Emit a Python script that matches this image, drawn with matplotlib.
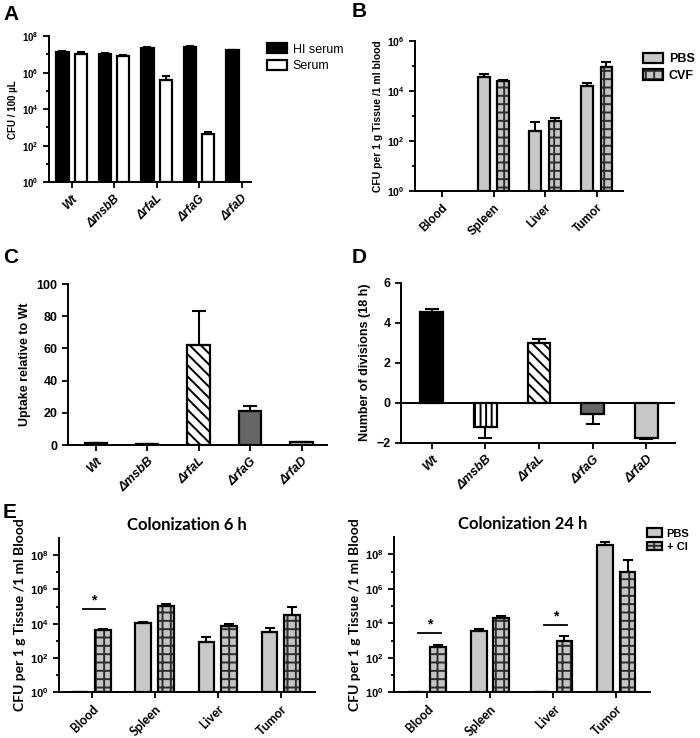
import numpy as np
import matplotlib
matplotlib.use("Agg")
import matplotlib.pyplot as plt
from matplotlib.patches import Patch
from matplotlib.legend_handler import HandlerTuple

plt.rcParams['font.family'] = ['Liberation Sans', 'DejaVu Sans']
plt.rcParams['font.weight'] = 'bold'
plt.rcParams['mathtext.fontset'] = 'custom'
plt.rcParams['mathtext.rm'] = 'Liberation Sans:bold'
plt.rcParams['mathtext.bf'] = 'Liberation Sans:bold'
plt.rcParams['hatch.linewidth'] = 1.4

nan = np.nan

# ================= DATA ==================
strains = ["Wt", "ΔmsbB", "ΔrfaL", "ΔrfaG", "ΔrfaD"]
organs = ["Blood", "Spleen", "Liver", "Tumor"]

# A: serum resistance (CFU / 100 uL)
a_hi = [1.35e7, 1.1e7, 2.3e7, 2.5e7, 1.65e7]
a_hi_sd = [1.5e6, 1.0e6, 1.5e6, 2.5e6, 1.5e6]
a_serum = [1.1e7, 8.5e6, 4.2e5, 4.2e2, nan]
a_serum_sd = [2.5e6, 0.8e6, 2.1e5, 1.4e2, nan]

# B: colonization PBS vs CVF
b_pbs = [nan, 3.9e4, 245, 1.6e4]
b_pbs_sd = [nan, 1.0e4, 330, 0.64e4]
b_cvf = [nan, 2.5e4, 630, 9.7e4]
b_cvf_sd = [nan, 0.3e4, 220, 4.8e4]

# C: uptake relative to Wt
c_uptake = [1.0, 0.4, 62, 21, 1.6]
c_uptake_sd = [0.3, 0.1, 21.5, 3, 0.4]

# D: number of divisions (18 h)
d_div = [4.55, -1.2, 3.0, -0.55, -1.75]
d_div_sd = [0.12, 0.55, 0.2, 0.53, 0.08]

# E: colonization 6 h / 24 h, PBS vs + CI
e6_pbs = [1, 1.15e4, 820, 3.3e3]
e6_pbs_sd = [0, 500, 780, 2.3e3]
e6_ci = [4.3e3, 1.1e5, 7e3, 3.4e4]
e6_ci_sd = [500, 3e4, 3e3, 6.6e4]
e6_sig = [("Blood", 7e4)]

e24_pbs = [1, 3.6e3, 1, 3.4e8]
e24_pbs_sd = [0, 1.4e3, 0, 2e8]
e24_ci = [400, 2e4, 1e3, 9e6]
e24_ci_sd = [175, 0.7e4, 740, 4.1e7]
e24_sig = [("Blood", 2.7e3), ("Liver", 8e3)]

# ================= STYLE ==================
LIGHT = "#c8c8c8"
DARK = "#666666"
BRICK_FILL = "#c4c4c4"
BRICK_LINE = "#2e2e2e"
EDGE_LW = 1.6
CAL = ["Lato", "DejaVu Sans"]


def style_axes(ax):
    for s in ["top", "right"]:
        ax.spines[s].set_visible(False)
    for s in ["left", "bottom"]:
        ax.spines[s].set_linewidth(1.4)
    ax.tick_params(axis="both", which="both", direction="out", width=1.3)
    ax.tick_params(axis="both", which="major", length=4)
    ax.tick_params(axis="both", which="minor", length=2.5)


def log_ticks(ax, top_exp, fs):
    major = list(range(0, top_exp + 1, 2))
    ax.set_yticks([10.0 ** e for e in major])
    ax.set_yticklabels([r"$\mathbf{10^{%d}}$" % e for e in major], fontsize=fs)
    ax.set_yticks([10.0 ** e for e in range(1, top_exp, 2)], minor=True)
    ax.set_yticklabels([], minor=True)


def plain_bar(ax, x, h, w, color, hatch=None, bottom=0):
    ax.bar(x, h, w, bottom=bottom, color=color, edgecolor="black",
           linewidth=EDGE_LW, hatch=hatch, zorder=2)


def brick_bar(ax, x, h, w, bottom=0):
    ax.bar(x, h, w, bottom=bottom, color=BRICK_FILL, edgecolor=BRICK_LINE,
           linewidth=0, hatch="++", zorder=2)
    ax.bar(x, h, w, bottom=bottom, fill=False, edgecolor="black",
           linewidth=EDGE_LW, zorder=3)


def err_up(ax, x, vals, sd, capsize=3.5):
    vals = np.asarray(vals, float)
    sd = np.asarray(sd, float)
    lo = np.where(vals < 0, sd, 0)
    hi = np.where(vals < 0, 0, sd)
    ax.errorbar(x, vals, yerr=[lo, hi], fmt="none", ecolor="black",
                elinewidth=1.5, capsize=capsize, capthick=1.5, zorder=4)


def brick_handle():
    return (Patch(facecolor=BRICK_FILL, edgecolor=BRICK_LINE, hatch="++", linewidth=0),
            Patch(fill=False, edgecolor="black", linewidth=EDGE_LW))


def xlabels(ax, labels, fs, italic=True, family=None):
    ax.set_xticks(np.arange(len(labels)))
    kw = {}
    if family:
        kw["family"] = family
    ax.set_xticklabels(labels, rotation=45, ha="right", rotation_mode="anchor",
                       fontsize=fs, fontweight="bold",
                       fontstyle="italic" if italic else "normal", **kw)


fig = plt.figure(figsize=(7.0, 7.38), dpi=100)

# ================= Panel A ==================
axA = fig.add_axes([0.070, 0.753, 0.289, 0.198])
xa = np.arange(len(strains))
off, w = 0.215, 0.29
plain_bar(axA, xa - off, np.array(a_hi) - 1, w, "black", bottom=1)
plain_bar(axA, xa + off, np.array(a_serum) - 1, w, "white", bottom=1)
err_up(axA, xa - off, a_hi, a_hi_sd, 3)
err_up(axA, xa + off, a_serum, a_serum_sd, 3)
axA.set_yscale("log")
axA.set_ylim(1, 1e8)
axA.set_xlim(-0.53, 4.23)
log_ticks(axA, 8, 7)
xlabels(axA, strains, 8.5)
axA.set_ylabel("CFU / 100 µL", fontsize=7, fontweight="bold", labelpad=3)
style_axes(axA)
axA.legend([Patch(facecolor="black", edgecolor="black", linewidth=EDGE_LW),
            Patch(facecolor="white", edgecolor="black", linewidth=EDGE_LW)],
           ["HI serum", "Serum"], loc="upper left", bbox_to_anchor=(1.02, 1.03),
           frameon=False, prop={"size": 9, "weight": "normal"},
           handlelength=1.6, handleheight=0.9, labelspacing=0.35, handletextpad=0.5)

# ================= Panel B ==================
axB = fig.add_axes([0.593, 0.741, 0.297, 0.203])
xb = np.arange(len(organs))
off, w = 0.19, 0.23
plain_bar(axB, xb - off, np.array(b_pbs) - 1, w, LIGHT, bottom=1)
brick_bar(axB, xb + off, np.array(b_cvf) - 1, w, bottom=1)
err_up(axB, xb - off, b_pbs, b_pbs_sd)
err_up(axB, xb + off, b_cvf, b_cvf_sd)
axB.set_yscale("log")
axB.set_ylim(1, 1e6)
axB.set_xlim(-0.52, 3.51)
log_ticks(axB, 6, 7.5)
xlabels(axB, organs, 8.5, italic=False)
axB.set_ylabel("CFU per 1 g Tissue /1 ml blood", fontsize=7.5, fontweight="bold", labelpad=3)
style_axes(axB)
axB.legend([Patch(facecolor=LIGHT, edgecolor="black", linewidth=EDGE_LW), brick_handle()],
           ["PBS", "CVF"], handler_map={tuple: HandlerTuple(ndivide=1, pad=0)},
           loc="upper left", bbox_to_anchor=(1.04, 1.0), frameon=False,
           prop={"size": 9, "weight": "bold"},
           handlelength=1.6, handleheight=0.9, labelspacing=0.35, handletextpad=0.5)

# ================= Panel C ==================
axC = fig.add_axes([0.097, 0.397, 0.370, 0.218])
xc = np.arange(len(strains))
colors_cd = ["black", "white", "white", DARK, LIGHT]
hatch_c = [None, None, "\\\\\\", None, None]
for i in range(len(strains)):
    plain_bar(axC, xc[i], c_uptake[i], 0.435, colors_cd[i], hatch=hatch_c[i])
err_up(axC, xc, c_uptake, c_uptake_sd, 5)
axC.set_ylim(0, 100)
axC.set_xlim(-0.54, 4.49)
axC.set_yticks(np.arange(0, 101, 20))
axC.tick_params(axis="y", labelsize=9)
xlabels(axC, strains, 9)
axC.set_ylabel("Uptake relative to Wt", fontsize=9, fontweight="bold", labelpad=4)
style_axes(axC)

# ================= Panel D ==================
axD = fig.add_axes([0.573, 0.400, 0.391, 0.217])
xd = np.arange(len(strains))
hatch_d = [None, "|||", "\\\\\\", None, None]
for i in range(len(strains)):
    plain_bar(axD, xd[i], d_div[i], 0.42, colors_cd[i], hatch=hatch_d[i])
err_up(axD, xd, d_div, d_div_sd, 5)
axD.axhline(0, color="black", linewidth=1.4, zorder=5)
axD.set_ylim(-2, 6)
axD.set_xlim(-0.57, 4.53)
axD.set_yticks(np.arange(-2, 7, 2))
axD.tick_params(axis="y", labelsize=9)
xlabels(axD, strains, 9)
axD.set_ylabel("Number of divisions (18 h)", fontsize=9, fontweight="bold", labelpad=4)
style_axes(axD)


# ================= Panel E ==================
def colonization(ax, pbs, pbs_sd, ci, ci_sd, sig, title):
    x = np.arange(len(organs))
    off, w = 0.18, 0.25
    plain_bar(ax, x - off, np.array(pbs) - 1, w, LIGHT, bottom=1)
    brick_bar(ax, x + off, np.array(ci) - 1, w, bottom=1)
    err_up(ax, x - off, pbs, pbs_sd)
    err_up(ax, x + off, ci, ci_sd)
    for organ, yv in sig:
        gx = organs.index(organ)
        ax.plot([gx - off + 0.04, gx + off + 0.04], [yv, yv], color="black", lw=1.3)
        ax.text(gx + 0.04, yv * 1.3, "*", ha="center", va="bottom", fontsize=10)
    ax.set_yscale("log")
    ax.set_ylim(1, 1e9)
    ax.set_xlim(-0.52, 3.54)
    log_ticks(ax, 8, 8)
    xlabels(ax, organs, 9, italic=False, family=CAL)
    ax.set_ylabel("CFU per 1 g Tissue /1 ml Blood", fontsize=10,
                  family=CAL, fontweight="bold", labelpad=3)
    ax.set_title(title, fontsize=12, family=CAL, fontweight="bold", pad=6)
    style_axes(ax)


axE1 = fig.add_axes([0.084, 0.062, 0.366, 0.209])
colonization(axE1, e6_pbs, e6_pbs_sd, e6_ci, e6_ci_sd, e6_sig, "Colonization 6 h")

axE2 = fig.add_axes([0.563, 0.062, 0.366, 0.210])
colonization(axE2, e24_pbs, e24_pbs_sd, e24_ci, e24_ci_sd, e24_sig, "Colonization 24 h")
axE2.legend([Patch(facecolor=LIGHT, edgecolor="black", linewidth=EDGE_LW), brick_handle()],
            ["PBS", "+ CI"], handler_map={tuple: HandlerTuple(ndivide=1, pad=0)},
            loc="upper left", bbox_to_anchor=(0.96, 1.1), frameon=False,
            prop={"size": 8, "weight": "bold"},
            handlelength=1.4, handleheight=0.8, labelspacing=0.3, handletextpad=0.4,
            borderaxespad=0.2)

# ================= Panel letters ==================
for letter, lx, ly in [("A", 0.005, 0.980), ("B", 0.503, 0.984),
                       ("C", 0.004, 0.651), ("D", 0.502, 0.651), ("E", 0.004, 0.305)]:
    fig.text(lx, ly, letter, fontsize=15, fontweight="bold", va="center", ha="left")

fig.savefig("out.png", dpi=100)
